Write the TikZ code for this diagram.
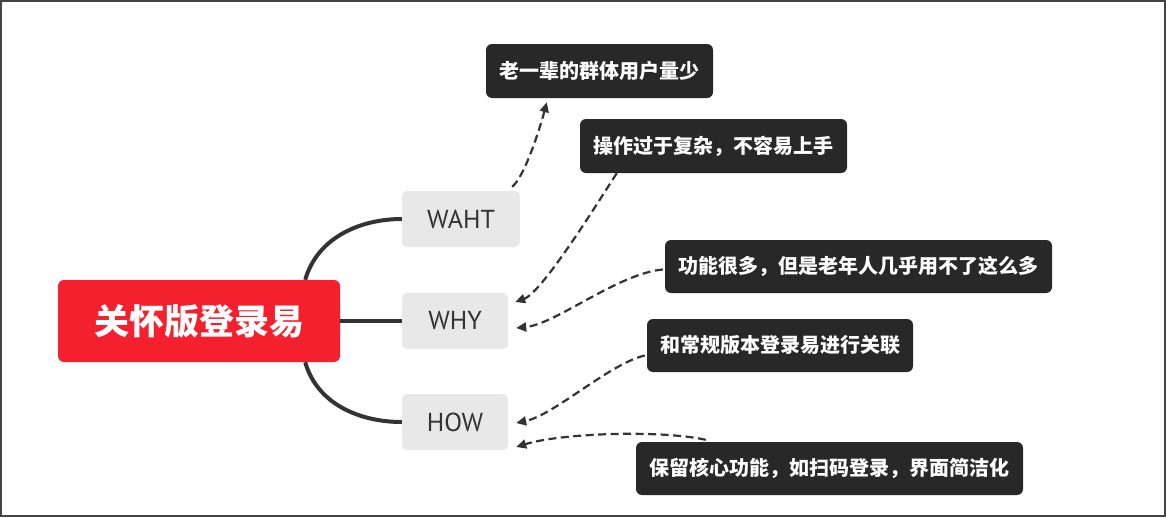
\documentclass[tikz,border=0pt]{standalone}
\usepackage{fontspec}
\setmainfont{PT Sans}
\newfontfamily\cjk{Noto Sans CJK SC}
\usetikzlibrary{arrows.meta}
\definecolor{mainred}{HTML}{F5202E}
\definecolor{darkbox}{HTML}{282828}
\definecolor{graybox}{HTML}{E8E8E8}
\definecolor{lineco}{HTML}{333333}
\definecolor{frameco}{HTML}{444444}
\tikzset{
  rootbox/.style={fill=mainred, rounded corners=6pt, inner sep=0pt, text=white,
    font=\cjk\bfseries\fontsize{35}{36}\selectfont},
  branchbox/.style={fill=graybox, rounded corners=5pt, inner sep=0pt, text=lineco,
    minimum height=56pt, font=\fontsize{26}{28}\selectfont},
  notebox/.style={fill=darkbox, rounded corners=6pt, inner sep=0pt, text=white,
    minimum height=54pt, font=\cjk\bfseries\fontsize{20}{21}\selectfont},
  thick link/.style={draw=lineco, line width=4pt},
  dash link/.style={draw=lineco, line width=2.2pt, dash pattern=on 8pt off 4.5pt,
    -{Triangle[length=10pt,width=9pt]}}
}
\begin{document}
\begin{tikzpicture}[x=1pt,y=-1pt]
\useasboundingbox (0,0) rectangle (1166,517);
\draw[frameco, line width=1.6pt] (0.8,0.8) rectangle (1165.2,516.2);

% root and branches
\node[rootbox, minimum width=282pt, minimum height=82pt] (root) at (199,321) {关怀版登录易};
\node[branchbox, minimum width=118pt] (waht) at (461,219) {WAHT};
\node[branchbox, minimum width=106pt] (why) at (455,321) {WHY};
\node[branchbox, minimum width=106pt] (how) at (455,422) {HOW};

% notes
\node[notebox, minimum width=227pt] (n1) at (599.5,71) {老一辈的群体用户量少};
\node[notebox, minimum width=267pt] (n2) at (713.5,146) {操作过于复杂，不容易上手};
\node[notebox, minimum width=387pt, minimum height=53pt] (n3) at (858.5,266.5) {功能很多，但是老年人几乎用不了这么多};
\node[notebox, minimum width=266pt, minimum height=53pt] (n4) at (780,345.5) {和常规版本登录易进行关联};
\node[notebox, minimum width=387pt, minimum height=53pt] (n5) at (829.5,468.5) {保留核心功能，如扫码登录，界面简洁化};

% thick connectors
\draw[thick link] ([xshift=-35pt]root.north east) .. controls +(12,-42) and +(-42,0) .. (waht.west);
\draw[thick link] (root.east) -- (why.west);
\draw[thick link] ([xshift=-35pt]root.south east) .. controls +(12,42) and +(-42,0) .. (how.west);

% dashed connectors
\draw[dash link] ([xshift=-8pt,yshift=4pt]waht.north east) .. controls +(12,-10) and +(-8,30) .. ([xshift=61pt,yshift=-4pt]n1.south west);
\draw[dash link] ([xshift=37pt]n2.south west) .. controls +(-12,18) and +(28,-10) .. ([xshift=7pt,yshift=19pt]why.east);
\draw[dash link] ([xshift=-2pt,yshift=-3pt]n3.west) .. controls +(-45,4) and +(40,-4) .. ([xshift=8pt,yshift=-7pt]why.east);
\draw[dash link] ([xshift=-2pt,yshift=-10pt]n4.west) .. controls +(-35,8) and +(38,-8) .. ([xshift=8pt,yshift=-1pt]how.east);
\draw[dash link] ([xshift=70pt,yshift=2pt]n5.north west) .. controls +(-45,-10) and +(45,-14) .. ([xshift=8pt,yshift=-25pt]how.east);
\end{tikzpicture}
\end{document}
